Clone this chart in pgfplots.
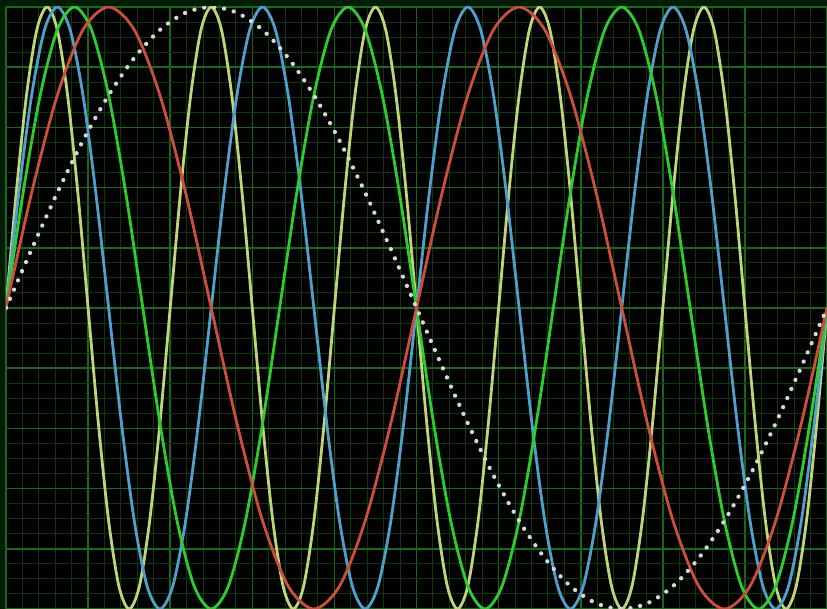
\documentclass[border=0pt]{standalone}
\usepackage{pgfplots}
\pgfplotsset{compat=1.18}

\definecolor{frame}{RGB}{0,28,4}
\definecolor{gmaj}{RGB}{22,105,22}
\definecolor{gmin}{RGB}{10,58,10}
\definecolor{wred}{RGB}{205,78,58}
\definecolor{wgreen}{RGB}{45,205,45}
\definecolor{wblue}{RGB}{80,160,205}
\definecolor{wyel}{RGB}{192,212,120}
\definecolor{wwhite}{RGB}{215,215,215}

\tikzset{wave/.style={line width=2.8bp, smooth, no marks}}

\begin{document}
\begin{tikzpicture}
\fill[frame] (0,0) rectangle (827bp,609bp);
\begin{axis}[
  at={(6bp,0bp)}, anchor=south west,
  scale only axis, width=821bp, height=602bp,
  xmin=0, xmax=48, ymin=-1, ymax=1,
  axis background/.style={fill=black},
  axis line style={draw=none},
  xtick={0,4.8,9.6,14.4,19.2,24,28.8,33.6,38.4,43.2,48},
  ytick={-1,-0.8,-0.6,-0.4,-0.2,0,0.2,0.4,0.6,0.8,1},
  minor x tick num=4, minor y tick num=3,
  xticklabels={}, yticklabels={},
  tick style={draw=none},
  grid=both,
  major grid style={draw=gmaj, line width=1.6bp},
  minor grid style={draw=gmin, line width=1bp},
]
% 5th harmonic
\addplot[wave, draw=wyel] coordinates {
(0,0) (0.6,.383) (1.2,.707) (1.8,.924) (2.4,1) (3,.924) (3.6,.707) (4.2,.383) (4.8,0) (5.4,-.383) (6,-.707) (6.6,-.924) (7.2,-1) (7.8,-.924) (8.4,-.707) (9,-.383)
(9.6,0) (10.2,.383) (10.8,.707) (11.4,.924) (12,1) (12.6,.924) (13.2,.707) (13.8,.383) (14.4,0) (15,-.383) (15.6,-.707) (16.2,-.924) (16.8,-1) (17.4,-.924) (18,-.707) (18.6,-.383)
(19.2,0) (19.8,.383) (20.4,.707) (21,.924) (21.6,1) (22.2,.924) (22.8,.707) (23.4,.383) (24,0) (24.6,-.383) (25.2,-.707) (25.8,-.924) (26.4,-1) (27,-.924) (27.6,-.707) (28.2,-.383)
(28.8,0) (29.4,.383) (30,.707) (30.6,.924) (31.2,1) (31.8,.924) (32.4,.707) (33,.383) (33.6,0) (34.2,-.383) (34.8,-.707) (35.4,-.924) (36,-1) (36.6,-.924) (37.2,-.707) (37.8,-.383)
(38.4,0) (39,.383) (39.6,.707) (40.2,.924) (40.8,1) (41.4,.924) (42,.707) (42.6,.383) (43.2,0) (43.8,-.383) (44.4,-.707) (45,-.924) (45.6,-1) (46.2,-.924) (46.8,-.707) (47.4,-.383)
(48,0)};
% 4th harmonic
\addplot[wave, draw=wblue] coordinates {
(0,0) (0.75,.383) (1.5,.707) (2.25,.924) (3,1) (3.75,.924) (4.5,.707) (5.25,.383) (6,0) (6.75,-.383) (7.5,-.707) (8.25,-.924) (9,-1) (9.75,-.924) (10.5,-.707) (11.25,-.383)
(12,0) (12.75,.383) (13.5,.707) (14.25,.924) (15,1) (15.75,.924) (16.5,.707) (17.25,.383) (18,0) (18.75,-.383) (19.5,-.707) (20.25,-.924) (21,-1) (21.75,-.924) (22.5,-.707) (23.25,-.383)
(24,0) (24.75,.383) (25.5,.707) (26.25,.924) (27,1) (27.75,.924) (28.5,.707) (29.25,.383) (30,0) (30.75,-.383) (31.5,-.707) (32.25,-.924) (33,-1) (33.75,-.924) (34.5,-.707) (35.25,-.383)
(36,0) (36.75,.383) (37.5,.707) (38.25,.924) (39,1) (39.75,.924) (40.5,.707) (41.25,.383) (42,0) (42.75,-.383) (43.5,-.707) (44.25,-.924) (45,-1) (45.75,-.924) (46.5,-.707) (47.25,-.383)
(48,0)};
% 3rd harmonic
\addplot[wave, draw=wgreen] coordinates {
(0,0) (1,.383) (2,.707) (3,.924) (4,1) (5,.924) (6,.707) (7,.383) (8,0) (9,-.383) (10,-.707) (11,-.924) (12,-1) (13,-.924) (14,-.707) (15,-.383)
(16,0) (17,.383) (18,.707) (19,.924) (20,1) (21,.924) (22,.707) (23,.383) (24,0) (25,-.383) (26,-.707) (27,-.924) (28,-1) (29,-.924) (30,-.707) (31,-.383)
(32,0) (33,.383) (34,.707) (35,.924) (36,1) (37,.924) (38,.707) (39,.383) (40,0) (41,-.383) (42,-.707) (43,-.924) (44,-1) (45,-.924) (46,-.707) (47,-.383)
(48,0)};
% 2nd harmonic
\addplot[wave, draw=wred] coordinates {
(0,0) (1.5,.383) (3,.707) (4.5,.924) (6,1) (7.5,.924) (9,.707) (10.5,.383) (12,0) (13.5,-.383) (15,-.707) (16.5,-.924) (18,-1) (19.5,-.924) (21,-.707) (22.5,-.383)
(24,0) (25.5,.383) (27,.707) (28.5,.924) (30,1) (31.5,.924) (33,.707) (34.5,.383) (36,0) (37.5,-.383) (39,-.707) (40.5,-.924) (42,-1) (43.5,-.924) (45,-.707) (46.5,-.383)
(48,0)};
% fundamental, dotted
\addplot[smooth, no marks, draw=wwhite, line width=4.2bp, line cap=round, dash pattern=on 0.2bp off 9.8bp] coordinates {
(0,0) (1.5,.195) (3,.383) (4.5,.556) (6,.707) (7.5,.831) (9,.924) (10.5,.981) (12,1) (13.5,.981) (15,.924) (16.5,.831) (18,.707) (19.5,.556) (21,.383) (22.5,.195)
(24,0) (25.5,-.195) (27,-.383) (28.5,-.556) (30,-.707) (31.5,-.831) (33,-.924) (34.5,-.981) (36,-1) (37.5,-.981) (39,-.924) (40.5,-.831) (42,-.707) (43.5,-.556) (45,-.383) (46.5,-.195)
(48,0)};
\end{axis}
\pgfresetboundingbox
\useasboundingbox (0,0) rectangle (827bp,609bp);
\end{tikzpicture}
\end{document}
